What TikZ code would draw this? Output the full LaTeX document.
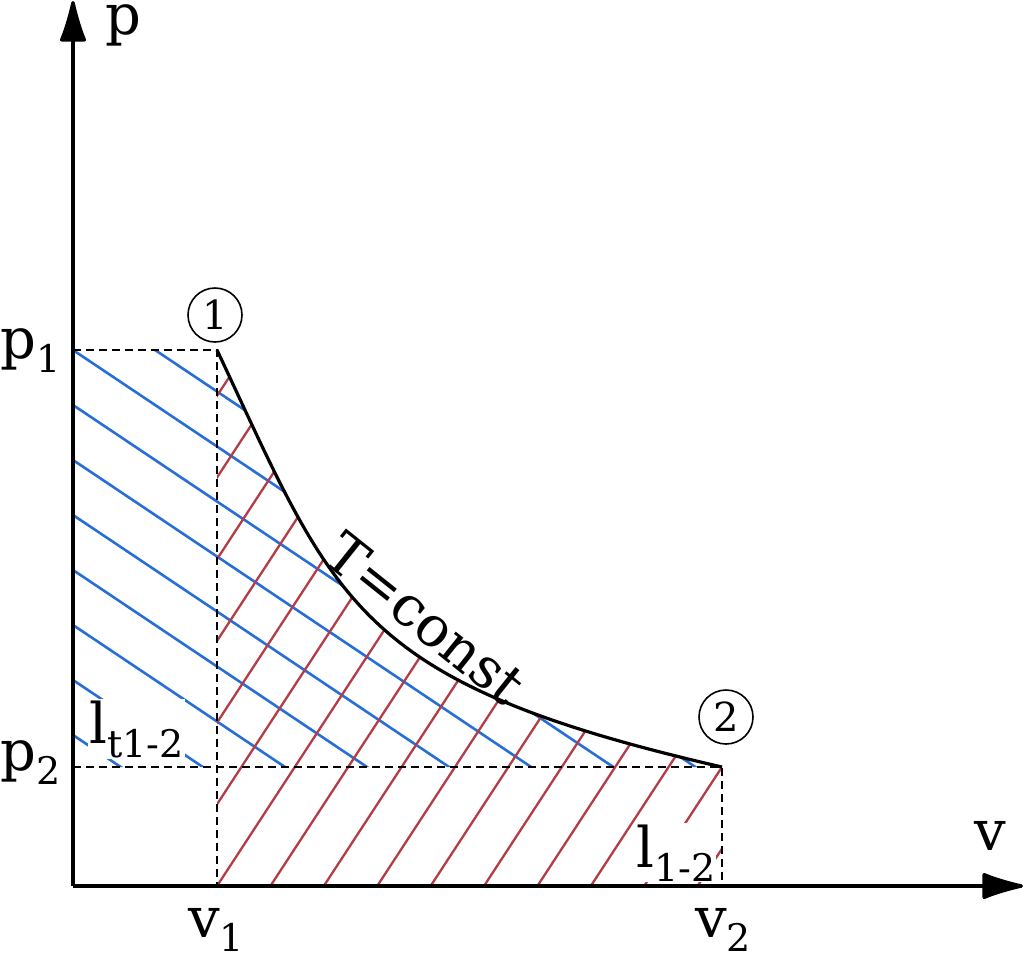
\documentclass[tikz,border=0pt]{standalone}
\usepackage{fontspec}
\setmainfont{DejaVu Serif}
\usetikzlibrary{arrows.meta}
\definecolor{hblue}{RGB}{40,110,215}
\definecolor{hred}{RGB}{180,60,70}
\newcommand\lsub[1]{\raisebox{-14pt}{\fontsize{38}{38}\selectfont #1}}
\begin{document}
\begin{tikzpicture}[x=1pt,y=-1pt,
  lbl/.style={font=\fontsize{56}{62}\selectfont, inner sep=0pt},
  axisline/.style={line width=3.5pt, -{Latex[round,length=48pt,width=28pt]}},
  guide/.style={dash pattern=on 8pt off 5pt, line width=2.7pt},
  hb/.style={hblue, line width=2.6pt},
  hr/.style={hred, line width=2.3pt},
  curve/.style={line width=3.2pt},
  circ/.style={circle, draw, line width=1.6pt, minimum size=54pt, inner sep=0pt, font=\fontsize{40}{40}\selectfont}]
\useasboundingbox (0,0) rectangle (1024,954);
% coordinates
\coordinate (O) at (73,886);
\coordinate (Ytop) at (73,1);
\coordinate (Xend) at (1023,886);
\coordinate (P1) at (217,350);
\coordinate (P2) at (722,767);
\coordinate (A1) at (73,350);
\coordinate (A2) at (73,767);
\coordinate (B1) at (217,886);
\coordinate (B2) at (722,886);
% blue hatching
\begin{scope}
  \clip (A1) -- (P1) .. controls (336,603) and (352,682) .. (P2) -- (A2) -- cycle;
  \foreach \k in {-3,...,9} \draw[hb] (73,{350+55*\k}) -- ++(800,536);
\end{scope}
% red hatching
\begin{scope}
  \clip (B1) -- (P1) .. controls (336,603) and (352,682) .. (P2) -- (B2) -- cycle;
  \foreach \k in {-8,...,12} \draw[hr] ({217+53.4*\k},886) -- ++(400,-612);
\end{scope}
% dashed guides
\draw[guide] (A1) -- (P1) -- (B1);
\draw[guide] (A2) -- (P2) -- (B2);
% area labels
\node[lbl, anchor=base west, fill=white, inner sep=1pt] (lt) at (88,743) {l\lsub{t1-2}};
\node[lbl, anchor=base west, fill=white, inner sep=1pt] (l12) at (635,867) {l\lsub{1-2}};
% isotherm
\draw[curve] (P1) .. controls (336,603) and (352,682) .. (P2);
\node[lbl, anchor=base west, rotate=-38.6] (tc) at (320,560) {T=const};
% axes
\draw[axisline] (O) -- (Ytop);
\draw[axisline] (O) -- (Xend);
% labels
\node[lbl, anchor=base west] (lp) at (105,34) {p};
\node[lbl, anchor=base west] (lv) at (974,850) {v};
\node[lbl, anchor=base west] (lp1) at (0,358) {p\lsub{1}};
\node[lbl, anchor=base west] (lp2) at (0,770) {p\lsub{2}};
\node[lbl, anchor=base west] (lv1) at (188,937) {v\lsub{1}};
\node[lbl, anchor=base west] (lv2) at (695,937) {v\lsub{2}};
\node[circ] (c1) at (215,315) {1};
\node[circ] (c2) at (726,717) {2};
\end{tikzpicture}
\end{document}
